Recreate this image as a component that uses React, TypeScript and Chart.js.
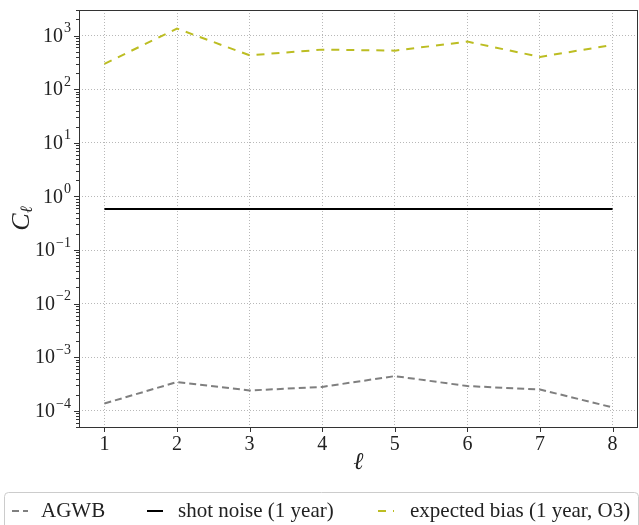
import React, { useEffect, useRef } from 'react';
import { Chart, registerables } from 'chart.js';

Chart.register(...registerables);

// ---- data ----
const ells = [1, 2, 3, 4, 5, 6, 7, 8];
const agwb = [1.37e-4, 3.45e-4, 2.4e-4, 2.8e-4, 4.45e-4, 2.9e-4, 2.5e-4, 1.16e-4];
const shotNoise = [0.58, 0.58, 0.58, 0.58, 0.58, 0.58, 0.58, 0.58];
const expectedBias = [297, 1350, 428, 547, 524, 772, 400, 670];
const yDecades = [-4, -3, -2, -1, 0, 1, 2, 3];
const xTickValues = [1, 2, 3, 4, 5, 6, 7, 8];
const seriesLabels = ['AGWB', 'shot noise (1 year)', 'expected bias (1 year, O3)'];
const seriesColors = ['#7f7f7f', '#000000', '#bcbd22'];
const seriesDash: number[][] = [[7, 4], [], [8, 7]];

const SERIF = '"Liberation Serif", "DejaVu Serif", serif';

const overlay = {
  id: 'overlay',
  afterDraw(chart: any) {
    const ctx = chart.ctx as CanvasRenderingContext2D;
    const { left, right, top, bottom } = chart.chartArea;
    const ys = chart.scales.y;
    const xs = chart.scales.x;
    ctx.save();

    // frame
    ctx.strokeStyle = '#333333';
    ctx.lineWidth = 1;
    ctx.setLineDash([]);
    ctx.strokeRect(Math.round(left) + 0.5, Math.round(top) + 0.5, Math.round(right - left) - 1, Math.round(bottom - top));

    // y ticks (major + minor)
    ctx.beginPath();
    for (const d of yDecades) {
      const y = Math.round(ys.getPixelForValue(Math.pow(10, d))) + 0.5;
      ctx.moveTo(left - 5, y);
      ctx.lineTo(left, y);
    }
    for (let d = -5; d <= 3; d++) {
      for (let m = 2; m <= 9; m++) {
        const v = m * Math.pow(10, d);
        if (v < ys.min || v > ys.max) continue;
        const y = Math.round(ys.getPixelForValue(v)) + 0.5;
        ctx.moveTo(left - 3, y);
        ctx.lineTo(left, y);
      }
    }
    // x ticks
    for (const t of xTickValues) {
      const x = Math.round(xs.getPixelForValue(t)) + 0.5;
      ctx.moveTo(x, bottom);
      ctx.lineTo(x, bottom + 5);
    }
    ctx.stroke();

    // y tick labels
    ctx.fillStyle = '#222222';
    const baseFont = `20px ${SERIF}`;
    const supFont = `14px ${SERIF}`;
    for (const d of yDecades) {
      const y = ys.getPixelForValue(Math.pow(10, d));
      const sup = d < 0 ? '\u2212' + Math.abs(d) : String(d);
      ctx.font = supFont;
      const sw = ctx.measureText(sup).width;
      ctx.font = baseFont;
      const bw = ctx.measureText('10').width;
      const xEnd = left - 8;
      ctx.textBaseline = 'middle';
      ctx.textAlign = 'left';
      ctx.fillText('10', xEnd - sw - bw - 1, y + 1);
      ctx.font = supFont;
      ctx.fillText(sup, xEnd - sw, y - 7);
    }

    // x tick labels
    ctx.font = baseFont;
    ctx.textAlign = 'center';
    ctx.textBaseline = 'top';
    for (const t of xTickValues) {
      ctx.fillText(String(t), xs.getPixelForValue(t), bottom + 8);
    }

    // axis titles
    ctx.save();
    ctx.translate(22, (top + bottom) / 2);
    ctx.rotate(-Math.PI / 2);
    ctx.textBaseline = 'middle';
    ctx.textAlign = 'left';
    ctx.font = `italic 26px ${SERIF}`;
    const cw = ctx.measureText('C').width;
    ctx.font = `italic 17px ${SERIF}`;
    const lw = ctx.measureText('\u2113').width;
    const tot = cw + lw;
    ctx.font = `italic 26px ${SERIF}`;
    ctx.fillText('C', -tot / 2, 0);
    ctx.font = `italic 17px ${SERIF}`;
    ctx.fillText('\u2113', -tot / 2 + cw, 6);
    ctx.restore();

    ctx.font = `italic 24px ${SERIF}`;
    ctx.textAlign = 'center';
    ctx.textBaseline = 'middle';
    ctx.fillText('\u2113', (left + right) / 2, 463);

    // legend box
    ctx.strokeStyle = '#cccccc';
    ctx.lineWidth = 1;
    ctx.fillStyle = 'rgba(255,255,255,0.8)';
    const bx = 4.5, by = 492.5, bw2 = 634, bh = 60, r = 4;
    ctx.beginPath();
    ctx.moveTo(bx + r, by);
    ctx.lineTo(bx + bw2 - r, by);
    ctx.arcTo(bx + bw2, by, bx + bw2, by + r, r);
    ctx.lineTo(bx + bw2, by + bh);
    ctx.lineTo(bx, by + bh);
    ctx.lineTo(bx, by + r);
    ctx.arcTo(bx, by, bx + r, by, r);
    ctx.closePath();
    ctx.fill();
    ctx.stroke();

    const handleX = [12, 147, 378];
    const textX = [41, 178, 410];
    const ly = 511;
    for (let i = 0; i < seriesLabels.length; i++) {
      ctx.strokeStyle = seriesColors[i];
      ctx.lineWidth = 2;
      ctx.setLineDash(seriesDash[i]);
      ctx.beginPath();
      ctx.moveTo(handleX[i], ly);
      ctx.lineTo(handleX[i] + 16, ly);
      ctx.stroke();
      ctx.setLineDash([]);
      ctx.fillStyle = '#222222';
      ctx.font = `21px ${SERIF}`;
      ctx.textAlign = 'left';
      ctx.textBaseline = 'middle';
      ctx.fillText(seriesLabels[i], textX[i], ly);
    }
    ctx.restore();
  },
};

export default function App() {
  const ref = useRef<HTMLCanvasElement>(null);
  useEffect(() => {
    document.body.style.margin = '0';
    const canvas = ref.current!;
    const series = [agwb, shotNoise, expectedBias];
    const chart = new Chart(canvas, {
      type: 'line',
      data: {
        datasets: series.map((vals, i) => ({
          label: seriesLabels[i],
          data: ells.map((l, j) => ({ x: l, y: vals[j] })),
          borderColor: seriesColors[i],
          borderWidth: 2,
          borderDash: seriesDash[i],
          pointRadius: 0,
          fill: false,
          tension: 0,
        })),
      },
      options: {
        animation: false,
        responsive: false,
        devicePixelRatio: 1,
        layout: { padding: { top: 10, right: 1, left: 0, bottom: 0 } },
        plugins: { legend: { display: false }, tooltip: { enabled: false } },
        scales: {
          x: {
            type: 'linear',
            min: 0.65,
            max: 8.35,
            afterBuildTicks: (s: any) => {
              s.ticks = xTickValues.map((v) => ({ value: v }));
            },
            afterFit: (s: any) => {
              s.height = 98;
            },
            ticks: { display: false },
            border: { display: false, dash: [1, 2] },
            grid: { color: '#b8b8b8', lineWidth: 1, drawTicks: false },
          },
          y: {
            type: 'logarithmic',
            min: 5e-5,
            max: 3e3,
            afterBuildTicks: (s: any) => {
              s.ticks = yDecades.map((d) => ({ value: Math.pow(10, d) }));
            },
            afterFit: (s: any) => {
              s.width = 79;
            },
            ticks: { display: false },
            border: { display: false, dash: [1, 2] },
            grid: { color: '#b8b8b8', lineWidth: 1, drawTicks: false },
          },
        },
      },
      plugins: [overlay],
    });
    return () => chart.destroy();
  }, []);
  return (
    <div style={{ width: 639, height: 525 }}>
      <canvas ref={ref} width={639} height={525} style={{ width: 639, height: 525, display: 'block' }} />
    </div>
  );
}
